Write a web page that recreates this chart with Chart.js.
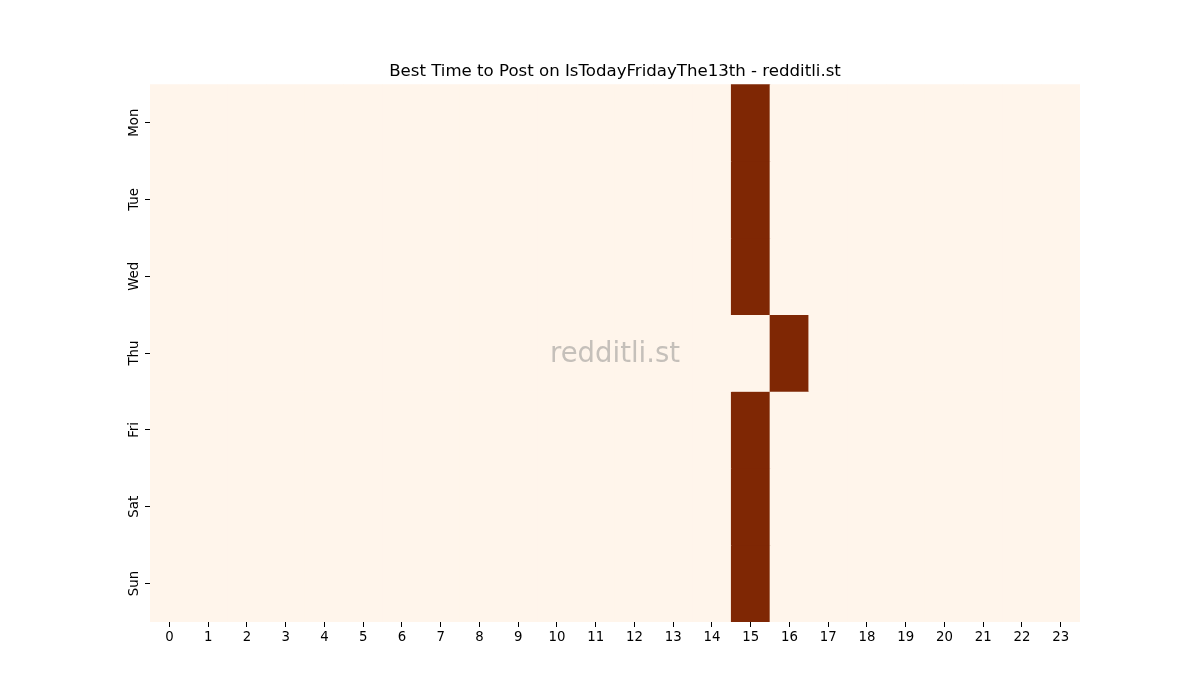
<!DOCTYPE html>
<html>
<head>
<meta charset="utf-8">
<script src="https://cdn.jsdelivr.net/npm/chart.js@4"></script>
<style>
html,body{margin:0;padding:0;background:#fff;}
#wrap{width:1200px;height:700px;}
</style>
</head>
<body>
<div id="wrap"><canvas id="c" width="1200" height="700"></canvas></div>
<script>
const hours = ['0','1','2','3','4','5','6','7','8','9','10','11','12','13','14','15','16','17','18','19','20','21','22','23'];
const days = ['Mon','Tue','Wed','Thu','Fri','Sat','Sun'];
const mon = [0,0,0,0,0,0,0,0,0,0,0,0,0,0,0,1,0,0,0,0,0,0,0,0];
const tue = [0,0,0,0,0,0,0,0,0,0,0,0,0,0,0,1,0,0,0,0,0,0,0,0];
const wed = [0,0,0,0,0,0,0,0,0,0,0,0,0,0,0,1,0,0,0,0,0,0,0,0];
const thu = [0,0,0,0,0,0,0,0,0,0,0,0,0,0,0,0,1,0,0,0,0,0,0,0];
const fri = [0,0,0,0,0,0,0,0,0,0,0,0,0,0,0,1,0,0,0,0,0,0,0,0];
const sat = [0,0,0,0,0,0,0,0,0,0,0,0,0,0,0,1,0,0,0,0,0,0,0,0];
const sun = [0,0,0,0,0,0,0,0,0,0,0,0,0,0,0,1,0,0,0,0,0,0,0,0];
const grid = [mon,tue,wed,thu,fri,sat,sun];
const titleText = 'Best Time to Post on IsTodayFridayThe13th - redditli.st';

const lo = [255,245,235], hi = [127,39,4];
function colorFor(v){
  const t = Math.max(0, Math.min(1, v));
  const c = lo.map((a,i)=>Math.round(a + (hi[i]-a)*t));
  return `rgb(${c[0]},${c[1]},${c[2]})`;
}

const datasets = grid.map((row, d) => ({
  label: days[d],
  data: row.map(() => [d - 0.5, d + 0.5]),
  backgroundColor: row.map(colorFor),
  borderWidth: 0,
  borderSkipped: false,
  barPercentage: 1.0,
  categoryPercentage: 1.0,
  grouped: false
}));

const FONT = 'DejaVu Sans';

const watermark = {
  id: 'watermark',
  afterDatasetsDraw(chart){
    const {ctx, chartArea} = chart;
    ctx.save();
    ctx.font = `27.5px "${FONT}"`;
    ctx.fillStyle = 'rgba(128,128,128,0.46)';
    ctx.textAlign = 'center';
    ctx.textBaseline = 'middle';
    ctx.fillText('redditli.st', (chartArea.left + chartArea.right)/2, (chartArea.top + chartArea.bottom)/2 + 2);
    ctx.restore();
  }
};

const yLabels = {
  id: 'yLabels',
  afterDraw(chart){
    const {ctx} = chart;
    const ys = chart.scales.y;
    ctx.save();
    ctx.font = `13.3px "${FONT}"`;
    ctx.fillStyle = '#000';
    ctx.textAlign = 'center';
    ctx.textBaseline = 'bottom';
    days.forEach((d, i) => {
      const py = ys.getPixelForValue(i);
      const px = ys.right - 5 - 4;
      ctx.save();
      ctx.translate(px, py);
      ctx.rotate(-Math.PI/2);
      ctx.fillText(d, 0, 0);
      ctx.restore();
    });
    ctx.restore();
  }
};

new Chart(document.getElementById('c'), {
  type: 'bar',
  data: { labels: hours, datasets },
  options: {
    responsive: false,
    animation: false,
    layout: { padding: { left: 110, right: 120, top: 0, bottom: 38 } },
    plugins: {
      legend: { display: false },
      tooltip: { enabled: false },
      title: {
        display: true,
        text: titleText,
        fullSize: false,
        color: '#000',
        font: { family: FONT, size: 16.6, weight: 'normal' },
        padding: { top: 62, bottom: 2.3 }
      }
    },
    scales: {
      x: {
        type: 'category',
        offset: true,
        border: { display: false },
        grid: { display: true, drawOnChartArea: false, drawTicks: true, tickLength: 5, tickColor: '#000', offset: false },
        ticks: { color: '#000', font: { family: FONT, size: 13.3 }, padding: 3, maxRotation: 0, autoSkip: false },
        afterFit(s){ s.height = 40; }
      },
      y: {
        type: 'linear',
        min: -0.5,
        max: 6.5,
        reverse: true,
        border: { display: false },
        grid: { display: true, drawOnChartArea: false, drawTicks: true, tickLength: 5, tickColor: '#000' },
        ticks: { display: true, color: 'rgba(0,0,0,0)', callback: () => '' },
        afterBuildTicks(s){ s.ticks = days.map((_, i) => ({ value: i })); },
        afterFit(s){ s.width = 40; }
      }
    }
  },
  plugins: [watermark, yLabels]
});
</script>
</body>
</html>
